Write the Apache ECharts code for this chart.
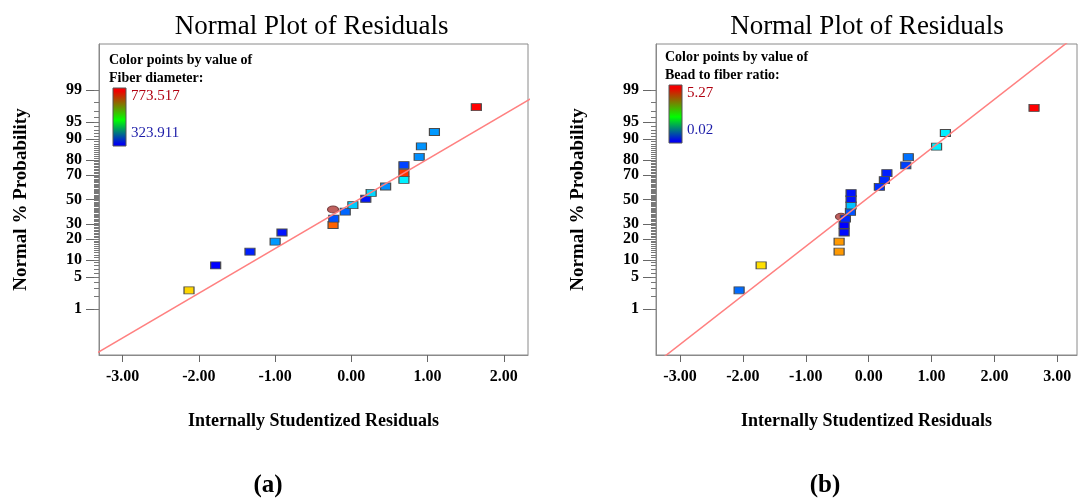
<!DOCTYPE html>
<html>
<head>
<meta charset="utf-8">
<script src="https://cdn.jsdelivr.net/npm/echarts@6/dist/echarts.min.js"></script>
<style>
  html, body { margin: 0; padding: 0; background: #ffffff; }
  #chart { width: 1078px; height: 501px; }
</style>
</head>
<body>
<div id="chart"></div>
<script>
// ---- Panel (a): residuals coloured by fiber diameter ----
const residA = [-2.13, -1.78, -1.33, -1.00, -0.91, -0.24, -0.23, -0.08, 0.02, 0.19, 0.26, 0.45, 0.69, 0.69, 0.69, 0.89, 0.92, 1.09, 1.64];
const probA  = [2.7, 8.1, 13.4, 18.6, 24.2, 29.4, 34.3, 39.9, 45.3, 50.6, 55.6, 60.9, 66.2, 71.4, 76.7, 81.7, 87.0, 92.4, 97.5];
const fiberDiameter = [679.1, 323.911, 337.4, 391.4, 332.9, 730.8, 359.9, 368.9, 413.8, 332.9, 418.3, 386.9, 429.6, 751.0, 353.1, 386.9, 389.1, 391.4, 773.517];
const flaggedA = [[-0.24, 41.6]];
const fitLineA = [[-3.5, 0.0322], [2.5, 98.858]];
const fiberRange = [323.911, 773.517];

// ---- Panel (b): residuals coloured by bead to fiber ratio ----
const residB = [-2.06, -1.71, -0.47, -0.47, -0.39, -0.39, -0.37, -0.29, -0.28, -0.28, -0.28, 0.17, 0.25, 0.29, 0.59, 0.63, 1.08, 1.22, 2.63];
const probB  = [2.7, 8.1, 13.4, 18.6, 24.2, 29.4, 34.3, 39.7, 44.9, 50.3, 55.4, 60.6, 65.9, 71.2, 76.5, 81.6, 86.9, 92.1, 97.4];
const beadRatio = [0.57, 4.12, 4.48, 4.48, 0.07, 0.02, 0.23, 0.44, 1.02, 0.125, 0.125, 0.27, 0.23, 0.18, 0.35, 0.60, 1.25, 1.25, 5.27];
const flaggedB = [[-0.44, 35.7]];
const fitLineB = [[-3.5, 0.0162], [3.4, 99.983]];
const beadRange = [0.02, 5.27];

// ---- Axis ticks ----
const probTicks = [1, 5, 10, 20, 30, 50, 70, 80, 90, 95, 99];
const residTicksA = [-3, -2, -1, 0, 1, 2];
const residTicksB = [-3, -2, -1, 0, 1, 2, 3];

// Inverse standard normal CDF (Acklam), used for the normal-probability scale
function probit(p) {
  const a = [-3.969683028665376e+01, 2.209460984245205e+02, -2.759285104469687e+02, 1.383577518672690e+02, -3.066479806614716e+01, 2.506628277459239e+00];
  const b = [-5.447609879822406e+01, 1.615858368580409e+02, -1.556989798598866e+02, 6.680131188771972e+01, -1.328068155288572e+01];
  const c = [-7.784894002430293e-03, -3.223964580411365e-01, -2.400758277161838e+00, -2.549732539343734e+00, 4.374664141464968e+00, 2.938163982698783e+00];
  const d = [7.784695709041462e-03, 3.224671290700398e-01, 2.445134137142996e+00, 3.754408661907416e+00];
  const pl = 0.02425, ph = 1 - pl;
  let q, r;
  if (p < pl) {
    q = Math.sqrt(-2 * Math.log(p));
    return (((((c[0]*q+c[1])*q+c[2])*q+c[3])*q+c[4])*q+c[5]) / ((((d[0]*q+d[1])*q+d[2])*q+d[3])*q+1);
  }
  if (p <= ph) {
    q = p - 0.5; r = q * q;
    return (((((a[0]*r+a[1])*r+a[2])*r+a[3])*r+a[4])*r+a[5])*q / (((((b[0]*r+b[1])*r+b[2])*r+b[3])*r+b[4])*r+1);
  }
  q = Math.sqrt(-2 * Math.log(1 - p));
  return -(((((c[0]*q+c[1])*q+c[2])*q+c[3])*q+c[4])*q+c[5]) / ((((d[0]*q+d[1])*q+d[2])*q+d[3])*q+1);
}
const z = pct => probit(pct / 100);
const zMajor = probTicks.map(z);
const zMinor = [];
for (let p = 1; p <= 99; p++) zMinor.push(z(p));
const Z_LIM = 3.30;

const SERIF = '"Liberation Serif", "Times New Roman", serif';
const AXIS_GREY = '#8a8a8a';
const RAINBOW = ['#0000ff', '#00ffff', '#00ff00', '#ffff00', '#ff0000'];

function xAxisFor(gridIndex, min, max, ticks) {
  return {
    type: 'value', gridIndex, min, max, position: 'bottom',
    name: 'Internally Studentized Residuals',
    nameLocation: 'middle', nameGap: 57,
    nameTextStyle: { fontFamily: SERIF, fontSize: 18, fontWeight: 'bold', color: '#000' },
    axisLine: { show: true, onZero: false, lineStyle: { color: AXIS_GREY, width: 1 } },
    axisTick: { show: true, length: 7, customValues: ticks, lineStyle: { color: '#666' } },
    axisLabel: { customValues: ticks, formatter: v => v.toFixed(2), margin: 14,
      fontFamily: SERIF, fontSize: 16, fontWeight: 'bold', color: '#000' },
    splitLine: { show: false }
  };
}
function yMajorFor(gridIndex) {
  return {
    type: 'value', gridIndex, min: -Z_LIM, max: Z_LIM, position: 'left',
    name: 'Normal % Probability',
    nameLocation: 'middle', nameGap: 68,
    nameTextStyle: { fontFamily: SERIF, fontSize: 19, fontWeight: 'bold', color: '#000' },
    axisLine: { show: true, onZero: false, lineStyle: { color: AXIS_GREY, width: 1 } },
    axisTick: { show: true, length: 13, customValues: zMajor, lineStyle: { color: '#666' } },
    axisLabel: {
      customValues: zMajor, margin: 17,
      formatter: v => { const i = zMajor.findIndex(t => Math.abs(t - v) < 1e-6); return i < 0 ? '' : String(probTicks[i]); },
      fontFamily: SERIF, fontSize: 16, fontWeight: 'bold', color: '#000'
    },
    splitLine: { show: false }
  };
}
function yMinorFor(gridIndex) {
  return {
    type: 'value', gridIndex, min: -Z_LIM, max: Z_LIM, position: 'left', offset: 0,
    axisLine: { show: false, onZero: false },
    axisTick: { show: true, length: 5, customValues: zMinor, lineStyle: { color: '#777' } },
    axisLabel: { show: false },
    splitLine: { show: false }
  };
}
function fitSeries(xi, yi, pts) {
  return {
    type: 'line', xAxisIndex: xi, yAxisIndex: yi, silent: true, clip: true,
    showSymbol: false, symbol: 'none',
    lineStyle: { color: '#ff8080', width: 1.5 },
    data: pts.map(p => [p[0], z(p[1])])
  };
}
const ELLIPSE = 'path://M0,5 A5,5 0 1,1 10,5 A5,5 0 1,1 0,5 Z';
function flaggedSeries(xi, yi, pts) {
  return {
    type: 'scatter', xAxisIndex: xi, yAxisIndex: yi, silent: true,
    symbol: ELLIPSE, symbolSize: [11, 7],
    itemStyle: { color: '#c0605e', borderColor: '#7a4040', borderWidth: 1, opacity: 1 },
    data: pts.map(p => [p[0], z(p[1])])
  };
}
function pointSeries(xi, yi, resid, prob, val) {
  return {
    type: 'scatter', xAxisIndex: xi, yAxisIndex: yi, silent: true,
    symbol: 'rect', symbolSize: [10, 7],
    itemStyle: { borderColor: '#4a4a4a', borderWidth: 1, opacity: 1 },
    data: resid.map((r, i) => [r, z(prob[i]), val[i]])
  };
}

// Colour-bar legend drawn inside each plot frame
function colorLegend(x, y, varName, hi, lo) {
  const grad = new echarts.graphic.LinearGradient(0, 0, 0, 1, [
    { offset: 0, color: '#ff0000' }, { offset: 0.06, color: '#f00000' },
    { offset: 0.55, color: '#00ff00' }, { offset: 0.96, color: '#0000f0' }, { offset: 1, color: '#0000ff' }
  ]);
  const txt = { fontFamily: SERIF, fontWeight: 'bold', fontSize: 14, fill: '#000', verticalAlign: 'middle' };
  return [
    { type: 'text', x: x, y: y, style: Object.assign({ text: 'Color points by value of' }, txt) },
    { type: 'text', x: x, y: y + 18, style: Object.assign({ text: varName }, txt) },
    { type: 'rect', shape: { x: x + 4, y: y + 28, width: 13, height: 58 },
      style: { fill: grad, stroke: '#555', lineWidth: 1 } },
    { type: 'text', x: x + 22, y: y + 36, style: { text: hi, fontFamily: SERIF, fontSize: 15, fill: '#b00010', verticalAlign: 'middle' } },
    { type: 'text', x: x + 22, y: y + 73, style: { text: lo, fontFamily: SERIF, fontSize: 15, fill: '#1c1ca8', verticalAlign: 'middle' } }
  ];
}

const chart = echarts.init(document.getElementById('chart'), null, { renderer: 'canvas' });
chart.setOption({
  backgroundColor: '#ffffff',
  animation: false,
  grid: [
    { left: 99, top: 44, width: 429, height: 311, show: true, borderColor: AXIS_GREY, borderWidth: 1, backgroundColor: 'transparent' },
    { left: 656, top: 44, width: 421, height: 311, show: true, borderColor: AXIS_GREY, borderWidth: 1, backgroundColor: 'transparent' }
  ],
  xAxis: [
    xAxisFor(0, -3.311, 2.318, residTicksA),
    xAxisFor(1, -3.382, 3.313, residTicksB)
  ],
  yAxis: [yMajorFor(0), yMinorFor(0), yMajorFor(1), yMinorFor(1)],
  visualMap: [
    { type: 'continuous', show: false, seriesIndex: 2, dimension: 2,
      min: fiberRange[0], max: fiberRange[1], inRange: { color: RAINBOW } },
    { type: 'continuous', show: false, seriesIndex: 5, dimension: 2,
      min: beadRange[0], max: beadRange[1], inRange: { color: RAINBOW } }
  ],
  series: [
    fitSeries(0, 0, fitLineA),
    flaggedSeries(0, 0, flaggedA),
    pointSeries(0, 0, residA, probA, fiberDiameter),
    fitSeries(1, 2, fitLineB),
    flaggedSeries(1, 2, flaggedB),
    pointSeries(1, 2, residB, probB, beadRatio)
  ],
  graphic: [
    { type: 'text', x: 311.6, y: 27, style: { text: 'Normal Plot of Residuals', fontFamily: SERIF, fontSize: 27, fill: '#000', align: 'center', verticalAlign: 'middle' } },
    { type: 'text', x: 867, y: 27, style: { text: 'Normal Plot of Residuals', fontFamily: SERIF, fontSize: 27, fill: '#000', align: 'center', verticalAlign: 'middle' } },
    ...colorLegend(109, 60, 'Fiber diameter:', String(fiberRange[1]), String(fiberRange[0])),
    ...colorLegend(665, 57, 'Bead to fiber ratio:', String(beadRange[1]), String(beadRange[0])),
    { type: 'text', x: 268, y: 486, style: { text: '(a)', fontFamily: SERIF, fontSize: 25, fontWeight: 'bold', fill: '#000', align: 'center', verticalAlign: 'middle' } },
    { type: 'text', x: 825, y: 486, style: { text: '(b)', fontFamily: SERIF, fontSize: 25, fontWeight: 'bold', fill: '#000', align: 'center', verticalAlign: 'middle' } }
  ]
});
</script>
</body>
</html>
